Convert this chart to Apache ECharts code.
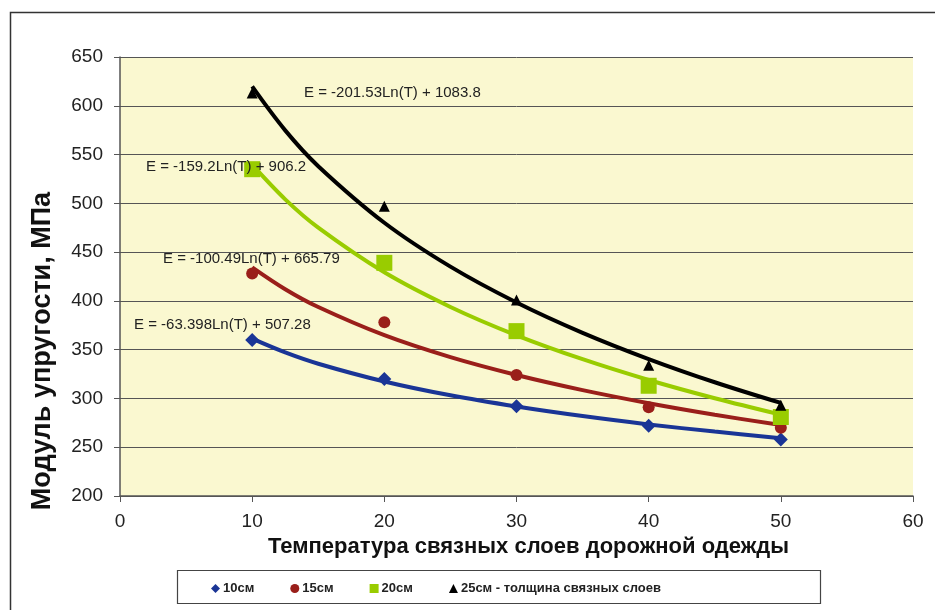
<!DOCTYPE html>
<html><head><meta charset="utf-8">
<script src="https://cdn.jsdelivr.net/npm/echarts@6/dist/echarts.min.js"></script>
<style>html,body{margin:0;padding:0;background:#fff}#c{width:935px;height:610px}</style>
</head><body><div id="c"></div>
<script>
// Measured data points
const temps = [10, 20, 30, 40, 50];
const e10 = [360, 320, 292, 272, 258];
const e15 = [428, 378, 324, 291, 270];
const e20 = [535, 439, 369, 313, 281];
const e25 = [613, 497, 401, 334, 293];
// Trend line values
const trendT = [10, 12.5, 15, 20, 25, 30, 35, 40, 45, 50];
const tr10 = [361.3, 347.2, 335.6, 317.4, 303.2, 291.7, 281.9, 273.4, 266.0, 259.3];
const tr15 = [434.4, 412.0, 393.7, 364.8, 342.3, 324.0, 308.5, 295.1, 283.3, 272.7];
const tr20 = [539.6, 504.1, 475.1, 429.3, 393.8, 364.7, 340.2, 318.9, 300.2, 283.4];
const tr25 = [619.8, 574.8, 538.1, 480.1, 435.1, 398.4, 367.3, 340.4, 316.6, 295.4];
const names = ['10см', '15см', '20см', '25см - толщина связных слоев'];
const equations = ['E = -63.398Ln(T) + 507.28', 'E = -100.49Ln(T) + 665.79', 'E = -159.2Ln(T) + 906.2', 'E = -201.53Ln(T) + 1083.8'];
const xTicks = [0, 10, 20, 30, 40, 50, 60];
const yTicks = [200, 250, 300, 350, 400, 450, 500, 550, 600, 650];
const xTitle = 'Температура связных слоев дорожной одежды';
const yTitle = 'Модуль упругости, МПа';

const colors = ['#1a3596', '#9a1f1a', '#99cc00', '#000000'];
const symbols = ['diamond', 'circle', 'rect', 'triangle'];
const symSizes = [14, 12, 16, 11];
const pts = [e10, e15, e20, e25];
const trends = [tr10, tr15, tr20, tr25];
const font = 'Arial, "Liberation Sans", sans-serif';

const series = [];
for (let i = 0; i < 4; i++) {
  series.push({
    type: 'line', name: 'trend' + i, smooth: 0.35, showSymbol: false, silent: true,
    data: trendT.map((t, k) => [t, trends[i][k]]),
    lineStyle: {color: colors[i], width: 4}, z: 2
  });
}
for (let i = 0; i < 4; i++) {
  series.push({
    type: 'scatter', name: names[i], symbol: symbols[i], symbolSize: symSizes[i],
    data: temps.map((t, k) => [t, pts[i][k]]),
    itemStyle: {color: colors[i], opacity: 1}, z: 3
  });
}

const chart = echarts.init(document.getElementById('c'));
chart.setOption({
  animation: false,
  backgroundColor: '#ffffff',
  grid: {left: 120, right: 22, top: 57, bottom: 114, show: true, backgroundColor: '#faf8d0', borderWidth: 0},
  xAxis: {
    type: 'value', min: 0, max: 60, interval: 10,
    axisLine: {show: true, onZero: false, lineStyle: {color: '#555', width: 1.5}},
    axisTick: {show: true, length: 6, lineStyle: {color: '#555'}},
    axisLabel: {color: '#222', fontSize: 19, fontFamily: font, margin: 16, formatter: v => xTicks.includes(v) ? String(v) : ''},
    splitLine: {show: false},
    name: xTitle, nameLocation: 'middle', nameGap: 39,
    nameTextStyle: {fontSize: 22, fontWeight: 'bold', color: '#111', fontFamily: font, padding: [0, 0, 0, 24]}
  },
  yAxis: {
    type: 'value', min: 200, max: 650, interval: 50,
    axisLine: {show: true, lineStyle: {color: '#555', width: 1.5}},
    axisTick: {show: true, length: 6, lineStyle: {color: '#555'}},
    axisLabel: {color: '#222', fontSize: 19, fontFamily: font, margin: 17, formatter: v => yTicks.includes(v) ? String(v) : ''},
    splitLine: {show: true, lineStyle: {color: '#555', width: 1}}
  },
  legend: {
    data: names.map((n, i) => ({name: n, icon: symbols[i], itemStyle: {color: colors[i]}})),
    left: 206, top: 577, itemWidth: 9, itemHeight: 9, itemGap: 36,
    textStyle: {fontSize: 13, fontWeight: 'bold', color: '#222', fontFamily: font, padding: [0, 0, 0, -2]}
  },
  graphic: [
    {type: 'rect', left: 8, top: 10, shape: {width: 960, height: 640}, style: {fill: 'none', stroke: '#333', lineWidth: 1.5}, silent: true},
    {type: 'rect', left: 175, top: 568, shape: {width: 643, height: 33}, style: {fill: 'none', stroke: '#444', lineWidth: 1.2}, silent: true},
    {type: 'text', x: 43, y: 351, rotation: Math.PI / 2, style: {text: yTitle, fontSize: 27, fontWeight: 'bold', fontFamily: font, fill: '#111', align: 'center', verticalAlign: 'middle'}, z: 10},
    {type: 'text', left: 134, top: 317, style: {text: equations[0], fontSize: 15, fontFamily: font, fill: '#222'}, z: 10},
    {type: 'text', left: 163, top: 251, style: {text: equations[1], fontSize: 15, fontFamily: font, fill: '#222'}, z: 10},
    {type: 'text', left: 146, top: 159, style: {text: equations[2], fontSize: 15, fontFamily: font, fill: '#222'}, z: 10},
    {type: 'text', left: 304, top: 85, style: {text: equations[3], fontSize: 15, fontFamily: font, fill: '#222'}, z: 10}
  ],
  series: series
});
</script>
</body></html>
